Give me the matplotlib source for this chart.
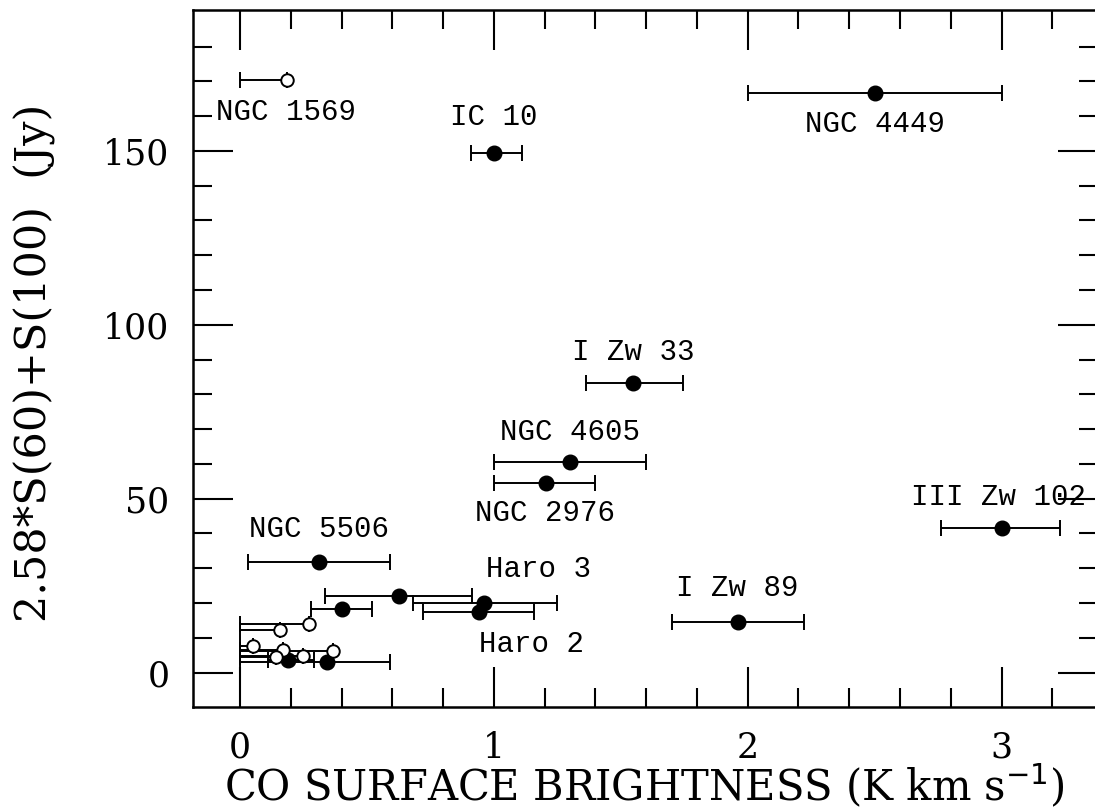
import numpy as np
import matplotlib
matplotlib.use("Agg")
import matplotlib.pyplot as plt

# Filled points (detections) : CO brightness, IR flux, error bar limits
det_x = [1.00, 2.50, 1.55, 1.30, 1.205, 3.00, 0.31, 1.96, 0.625, 0.96, 0.94, 0.40, 0.19, 0.343]
det_y = [149.5, 166.7, 83.3, 60.5, 54.5, 41.6, 31.8, 14.5, 21.9, 19.9, 17.3, 18.2, 3.5, 3.0]
det_lo = [0.91, 2.00, 1.364, 1.00, 1.00, 2.76, 0.03, 1.70, 0.336, 0.68, 0.72, 0.28, 0.11, 0.00]
det_hi = [1.11, 3.00, 1.746, 1.60, 1.40, 3.23, 0.59, 2.22, 0.913, 1.25, 1.16, 0.52, 0.29, 0.59]

# Open points (upper limits on CO) : bar runs from 0 up to the point
lim_x = [0.185, 0.27, 0.158, 0.053, 0.17, 0.25, 0.367, 0.14]
lim_y = [170.4, 14.0, 12.2, 7.6, 6.5, 4.8, 6.2, 4.4]

# Galaxy names and where they are written
names = ["NGC 1569", "IC 10", "NGC 4449", "I Zw 33", "NGC 4605", "NGC 2976",
         "NGC 5506", "III Zw 102", "Haro 3", "I Zw 89", "Haro 2"]
name_x = [0.18, 1.00, 2.50, 1.55, 1.30, 1.20, 0.31, 2.99, 1.175, 1.96, 1.15]
name_y = [161.2, 159.6, 157.7, 92.1, 69.2, 46.0, 41.3, 50.5, 29.8, 24.4, 8.2]

W, H, DPI = 1095, 811, 100
fig = plt.figure(figsize=(W / DPI, H / DPI), dpi=DPI)
ax = fig.add_axes([193 / W, (H - 707) / H, (1098 - 193) / W, (707 - 10) / H])

serif = "DejaVu Serif"

# error bars
det_x = np.array(det_x); det_y = np.array(det_y)
xerr = [det_x - np.array(det_lo), np.array(det_hi) - det_x]
ax.errorbar(det_x, det_y, xerr=xerr, fmt="o", color="black", ms=10.5,
            elinewidth=1.4, capsize=5.5, capthick=1.4, zorder=3)

lim_x = np.array(lim_x); lim_y = np.array(lim_y)
ax.errorbar(lim_x, lim_y, xerr=[lim_x, np.zeros_like(lim_x)], fmt="o",
            mfc="white", mec="black", mew=1.4, color="black", ms=9,
            elinewidth=1.4, capsize=5.5, capthick=1.4, zorder=3)

for n, tx, ty in zip(names, name_x, name_y):
    ax.text(tx, ty, n, ha="center", va="center", fontsize=21,
            family="Liberation Mono", zorder=4)

ax.set_xlim(-0.185, 3.38)
ax.set_ylim(-9.9, 190.5)
ax.set_xticks([0, 1, 2, 3])
ax.set_xticks(np.arange(0, 3.4, 0.2), minor=True)
ax.set_yticks([0, 50, 100, 150])
ax.set_yticks(np.arange(0, 190, 10), minor=True)
ax.tick_params(which="both", direction="in", top=True, right=True, width=1.5)
ax.tick_params(which="major", length=29, pad=17, labelsize=25)
ax.tick_params(which="minor", length=14)
for lab in ax.get_xticklabels() + ax.get_yticklabels():
    lab.set_family(serif)
for s in ax.spines.values():
    s.set_linewidth(1.8)

fig.text(0.588, (H - 801) / H, "CO SURFACE BRIGHTNESS (K km s$^{-1}$)",
         ha="center", va="baseline", fontsize=30, family=serif)
fig.text(0.032, 1 - 363 / H, "2.58*S(60)+S(100)  (Jy)", ha="center",
         va="center", rotation=90, fontsize=31, family=serif)

fig.savefig("out.png", dpi=DPI)
